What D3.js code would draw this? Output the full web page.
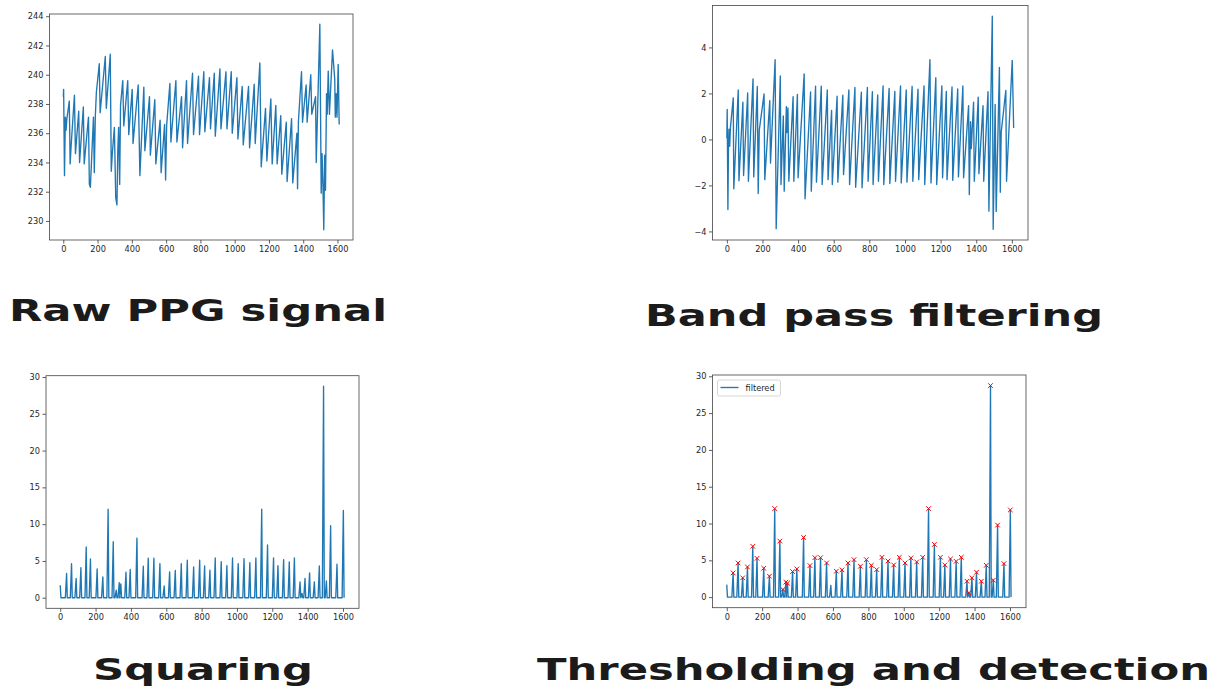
<!DOCTYPE html>
<html>
<head>
<meta charset="utf-8">
<script src="https://cdn.jsdelivr.net/npm/d3@7"></script>
<style>
  body { margin: 0; background: #fff; }
</style>
</head>
<body>
<div class="svg-container"></div>
<script>
// ---- data (sample index / value) ----
const rawX = [0, 2, 7, 12, 16, 21, 35, 40, 45, 65, 71, 90, 95, 117, 122, 147, 152, 158, 176, 181,
  187, 193, 210, 215, 245, 251, 274, 280, 286, 298, 306, 313, 318, 323, 329, 334, 347, 353, 376, 382,
  402, 407, 437, 447, 470, 476, 503, 508, 534, 540, 565, 571, 591, 597, 603, 622, 628, 657, 663, 690,
  696, 719, 725, 754, 760, 789, 795, 820, 826, 853, 859, 881, 887, 914, 920, 949, 955, 980, 986, 1013,
  1019, 1044, 1050, 1081, 1087, 1114, 1120, 1147, 1155, 1180, 1188, 1211, 1219, 1240, 1248, 1269, 1275, 1301, 1306, 1332,
  1339, 1363, 1367, 1372, 1390, 1396, 1417, 1423, 1444, 1450, 1472, 1476, 1497, 1505, 1510, 1515, 1520, 1525, 1530, 1536,
  1540, 1546, 1553, 1571, 1584, 1587, 1592, 1597, 1604, 1610];
const rawY = [238.5, 239.0, 233.1, 237.1, 236.2, 237.0, 238.2, 233.9, 235.0, 238.6, 234.6, 237.5, 234.0, 237.8, 233.9, 237.1, 232.5, 232.3, 237.1, 233.3,
  237.2, 238.8, 240.75, 237.4, 241.25, 237.7, 241.4, 233.4, 234.6, 236.4, 231.6, 231.1, 234.8, 236.4, 232.5, 237.9, 239.6, 236.5, 239.6, 235.9,
  239.0, 235.3, 239.3, 233.1, 239.15, 234.8, 238.5, 234.5, 238.3, 233.9, 236.9, 233.3, 236.6, 232.8, 236.5, 239.4, 235.4, 239.6, 235.4, 238.5,
  235.0, 239.6, 235.3, 240.1, 235.9, 239.9, 235.9, 240.2, 236.1, 239.8, 236.3, 240.1, 235.8, 240.4, 236.3, 240.2, 236.3, 240.2, 236.0, 239.8,
  235.6, 239.2, 235.2, 239.2, 235.0, 239.35, 235.3, 240.8, 233.7, 237.7, 234.1, 238.35, 233.9, 237.9, 233.9, 237.2, 233.2, 236.75, 232.7, 237.0,
  232.6, 236.0, 232.2, 236.8, 240.2, 236.75, 239.3, 236.75, 240.0, 237.3, 238.5, 234.0, 243.45, 231.9, 234.6, 232.5, 229.4, 234.5, 232.1, 238.7,
  237.3, 240.25, 237.3, 241.7, 239.7, 237.1, 238.7, 237.1, 240.7, 236.6];

const bpX = [0, 2, 6, 9, 12, 16, 20, 36, 39, 64, 68, 90, 94, 117, 121, 147, 151, 171, 176, 182,
  209, 213, 241, 245, 271, 277, 300, 304, 317, 322, 334, 337, 343, 348, 372, 376, 396, 400, 434, 439,
  470, 474, 498, 503, 530, 535, 564, 568, 588, 592, 619, 623, 651, 655, 685, 689, 719, 723, 755, 759,
  789, 793, 817, 821, 847, 851, 877, 881, 911, 915, 943, 947, 975, 979, 1007, 1011, 1040, 1044, 1073, 1077,
  1107, 1111, 1140, 1146, 1173, 1178, 1207, 1211, 1232, 1236, 1264, 1268, 1296, 1300, 1325, 1329, 1357, 1361, 1368, 1372,
  1385, 1389, 1411, 1415, 1438, 1442, 1466, 1471, 1490, 1495, 1506, 1512, 1530, 1535, 1540, 1566, 1570, 1602, 1610];
const bpY = [0.05, 1.3, -3.05, -0.4, 0.45, -0.3, 0.5, 1.81, -2.15, 2.15, -1.8, 1.62, -1.57, 2.02, -1.82, 2.63, -1.63, 2.30, -2.35, 0.4,
  1.98, -1.75, 1.69, -1.03, 3.47, -3.88, 2.76, -1.96, 1.02, -2.25, 1.42, 0.3, 1.37, -1.82, 1.86, -1.82, 1.96, -1.67, 2.85, -2.58,
  2.07, -2.25, 2.32, -1.86, 2.32, -1.96, 2.15, -1.75, 1.26, -1.96, 1.88, -1.86, 1.92, -1.53, 2.15, -1.96, 2.26, -2.08, 2.05, -2.1,
  2.26, -1.82, 2.08, -1.96, 1.93, -1.82, 2.33, -1.96, 2.22, -1.92, 2.09, -1.82, 2.33, -1.89, 2.15, -1.86, 2.31, -1.82, 2.19, -1.75,
  2.33, -1.96, 3.47, -1.89, 2.68, -1.96, 2.33, -1.67, 2.09, -1.75, 2.28, -1.78, 2.20, -1.63, 2.33, -1.67, 1.47, -2.4, 0.77, -0.4,
  1.62, -1.82, 1.84, -1.49, 1.47, -1.82, 2.08, -3.12, 5.36, -3.91, 1.52, -3.13, 3.13, -2.3, 0.3, 2.13, -1.82, 3.44, 0.5];

// peaks of the squared signal
const sqPeakX = [0, 36, 64, 90, 117, 147, 171, 209, 241, 271, 300, 317, 334, 343, 372, 396, 434, 470, 498, 530,
  564, 588, 619, 651, 685, 719, 755, 789, 817, 847, 877, 911, 943, 975, 1007, 1040, 1073, 1107, 1140, 1173,
  1207, 1232, 1264, 1296, 1325, 1357, 1368, 1385, 1411, 1438, 1466, 1490, 1506, 1530, 1566, 1602];
const sqPeakY = [1.7, 3.29, 4.64, 2.62, 4.10, 6.90, 5.27, 3.92, 2.84, 12.03, 7.61, 1.04, 2.03, 1.89, 3.47, 3.83, 8.11, 4.28, 5.36, 5.36,
  4.64, 1.6, 3.52, 3.70, 4.64, 5.09, 4.19, 5.09, 4.32, 3.74, 5.41, 4.91, 4.37, 5.41, 4.64, 5.32, 4.78, 5.41, 12.03, 7.16,
  5.41, 4.37, 5.18, 4.86, 5.41, 2.16, 0.59, 2.62, 3.38, 2.16, 4.32, 28.74, 2.30, 9.78, 4.55, 11.85];

// detected beats (red crosses)
const detX = [36, 64, 90, 117, 147, 171, 209, 241, 271, 300, 317, 334, 343, 372, 396, 434, 470, 498, 530, 564,
  619, 651, 685, 719, 755, 789, 817, 847, 877, 911, 943, 975, 1007, 1040, 1073, 1107, 1140, 1173, 1207, 1232,
  1264, 1296, 1325, 1357, 1368, 1385, 1411, 1438, 1466, 1490, 1506, 1530, 1566, 1602];
const detY = [3.29, 4.64, 2.62, 4.10, 6.90, 5.27, 3.92, 2.84, 12.03, 7.61, 1.04, 2.03, 1.89, 3.47, 3.83, 8.11, 4.28, 5.36, 5.36, 4.64,
  3.52, 3.70, 4.64, 5.09, 4.19, 5.09, 4.32, 3.74, 5.41, 4.91, 4.37, 5.41, 4.64, 5.32, 4.78, 5.41, 12.03, 7.16, 5.41, 4.37,
  5.18, 4.86, 5.41, 2.16, 0.59, 2.62, 3.38, 2.16, 4.32, 28.74, 2.30, 9.78, 4.55, 11.85];

const xTicks = [0, 200, 400, 600, 800, 1000, 1200, 1400, 1600];
const rawTicks = [230, 232, 234, 236, 238, 240, 242, 244];
const bpTicks = [-4, -2, 0, 2, 4];
const sqTicks = [0, 5, 10, 15, 20, 25, 30];

const titles = ['Raw PPG signal', 'Band pass filtering', 'Squaring', 'Thresholding and detection'];
const legendLabel = 'filtered';

const width = 1217;
const height = 694;
const lineColour = '#1f77b4';

// squared curve: narrow spike for every peak
const sqPts = [];
sqPeakX.forEach((px, i) => {
  if (px > 0) sqPts.push([px - 7, 0]);
  sqPts.push([px, sqPeakY[i]]);
  sqPts.push([px + 4, 0]);
});

// matplotlib style 5% margins
function pad(ext) {
  const r = ext[1] - ext[0];
  return [ext[0] - 0.05 * r, ext[1] + 0.05 * r];
}

const svg = d3.select('.svg-container')
  .append('svg')
  .attr('width', width)
  .attr('height', height)

function drawPanel(box, xs, ys, yTicks) {
  const x = d3.scaleLinear().domain(pad(d3.extent(rawX))).range([box.x, box.x + box.w]);
  const y = d3.scaleLinear().domain(pad(d3.extent(ys))).range([box.y + box.h, box.y]);

  const gx = svg.append('g')
    .attr('transform', `translate(0,${box.y + box.h})`)
    .call(d3.axisBottom(x).tickValues(xTicks).tickFormat(d3.format('d')).tickSize(3.5).tickPadding(2.5));
  const gy = svg.append('g')
    .attr('transform', `translate(${box.x},0)`)
    .call(d3.axisLeft(y).tickValues(yTicks).tickFormat(d3.format('d')).tickSize(3.5).tickPadding(2.5));

  [gx, gy].forEach((g) => {
    g.attr('font-family', 'DejaVu Sans').attr('font-size', 8.2);
    g.select('.domain').remove();
    g.selectAll('line').attr('stroke', '#333').attr('stroke-width', 0.8);
    g.selectAll('text').attr('fill', '#262626');
  });

  svg.append('path')
    .datum(d3.zip(xs, ys))
    .attr('fill', 'none')
    .attr('stroke', lineColour)
    .attr('stroke-width', 1.35)
    .attr('stroke-linejoin', 'round')
    .attr('d', d3.line().x((d) => x(d[0])).y((d) => y(d[1])));

  svg.append('rect')
    .attr('x', box.x).attr('y', box.y)
    .attr('width', box.w).attr('height', box.h)
    .attr('fill', 'none')
    .attr('stroke', '#444')
    .attr('stroke-width', 0.8);

  return { x, y };
}

const panels = [
  { box: { x: 49.5, y: 14, w: 303.5, h: 226 }, title: { x: 9, y: 321, w: 378 } },
  { box: { x: 712.5, y: 5.5, w: 315.5, h: 234.5 }, title: { x: 645, y: 326, w: 458 } },
  { box: { x: 46, y: 375.7, w: 313, h: 232.6 }, title: { x: 93, y: 680, w: 220 } },
  { box: { x: 712.5, y: 375, w: 313.5, h: 232.7 }, title: { x: 537, y: 680, w: 673 } }
];

drawPanel(panels[0].box, rawX, rawY, rawTicks);
drawPanel(panels[1].box, bpX, bpY, bpTicks);
drawPanel(panels[2].box, sqPts.map((d) => d[0]), sqPts.map((d) => d[1]), sqTicks);
const p4 = drawPanel(panels[3].box, sqPts.map((d) => d[0]), sqPts.map((d) => d[1]), sqTicks);

// detected peaks
svg.append('g')
  .selectAll('path')
  .data(d3.zip(detX, detY))
  .enter()
  .append('path')
  .attr('transform', (d) => `translate(${p4.x(d[0])},${p4.y(d[1])})`)
  .attr('d', 'M-2.3,-2.3L2.3,2.3M-2.3,2.3L2.3,-2.3')
  .attr('stroke', '#ff0000')
  .attr('stroke-width', 1);

// legend
const lg = svg.append('g').attr('transform', `translate(${panels[3].box.x + 5},${panels[3].box.y + 5})`);
lg.append('rect')
  .attr('width', 63).attr('height', 16).attr('rx', 2)
  .attr('fill', '#fff').attr('fill-opacity', 0.8)
  .attr('stroke', '#ccc').attr('stroke-width', 0.8);
lg.append('line')
  .attr('x1', 3).attr('x2', 21).attr('y1', 7.5).attr('y2', 7.5)
  .attr('stroke', lineColour).attr('stroke-width', 1.35);
lg.append('text')
  .attr('x', 28).attr('y', 10.8)
  .attr('font-family', 'DejaVu Sans').attr('font-size', 8.2)
  .attr('fill', '#262626')
  .text(legendLabel);

// big titles under each plot
panels.forEach((p, i) => {
  svg.append('text')
    .attr('x', p.title.x)
    .attr('y', p.title.y)
    .attr('textLength', p.title.w)
    .attr('lengthAdjust', 'spacingAndGlyphs')
    .attr('font-family', 'DejaVu Sans')
    .attr('font-weight', 'bold')
    .attr('font-size', 31)
    .attr('fill', '#1b1b1b')
    .text(titles[i]);
});
</script>
</body>
</html>
